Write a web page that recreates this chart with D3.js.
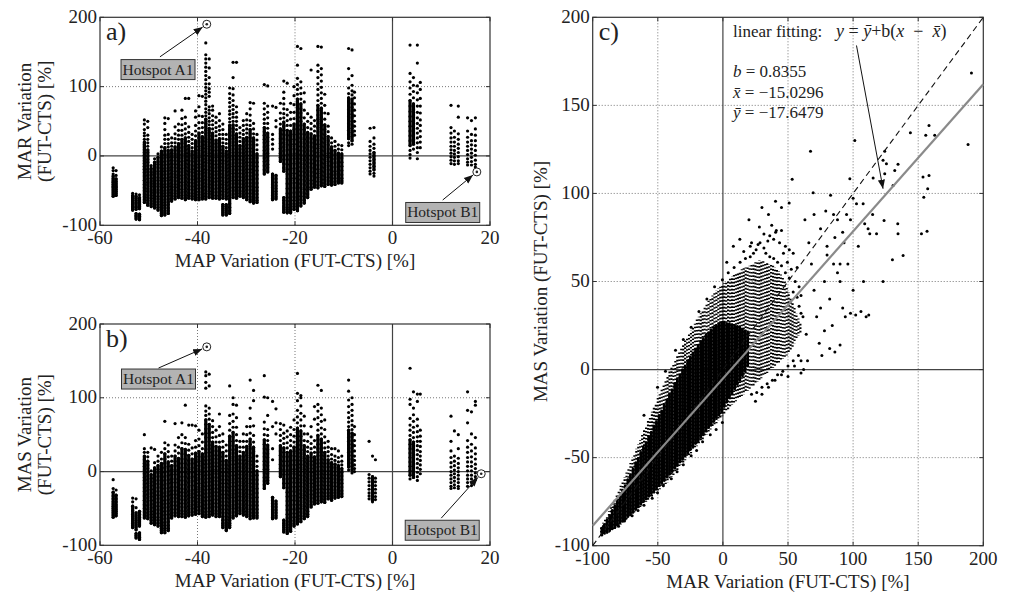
<!DOCTYPE html>
<html>
<head>
<meta charset="utf-8">
<script src="https://cdn.jsdelivr.net/npm/d3@7"></script>
<style>
  body { margin: 0; background: #fff; }
  svg text { font-family: "Liberation Serif", "Times New Roman", serif; fill: #222; }
</style>
</head>
<body>
<svg id="chart" width="1010" height="596"></svg>
<script>
// ---- data ----
// panel a: MAR variation vs MAP variation, one entry per column of points: [MAP, MAR, MAR, ...]
var marStreaks = [
  [-57.3, -17,-21,-26,-29,-33,-36,-38,-41,-44,-46,-49,-52,-55,-58],
  [-56.7, -21,-28,-33,-37,-40,-43,-45,-48,-51,-54,-57],
  [-53.3, -54,-57,-60,-62,-65,-68,-70,-73,-75,-78],
  [-52.6, -55,-58,-61,-64,-67,-69,-72,-74,-77,-83,-86,-88,-91],
  [-51.9, -56,-60,-63,-66,-70,-73,-76,-84,-87,-89,-92],
  [-50.9, 52,46,38,33,29,24,20,16,13,9,5,1,-3,-7,-11,-15,-19,-24,-29,-35,-41,-46,-50,-55,-59,-63,-67],
  [-50.2, 50,41,30,24,19,14,9,5,0,-5,-9,-14,-19,-23,-28,-33,-38,-42,-47,-51,-56,-60,-64,-68,-71],
  [-49.5, -14,-18,-23,-27,-32,-36,-40,-44,-49,-53,-57,-61,-65,-69,-73],
  [-48.8, -4,-9,-15,-20,-24,-29,-33,-37,-42,-46,-51,-55,-59,-63,-67,-71,-75],
  [-48.1, 3,-2,-8,-12,-17,-22,-26,-31,-35,-40,-44,-49,-53,-58,-62,-66,-70,-74,-78],
  [-47.4, 13,7,1,-4,-9,-14,-18,-23,-28,-32,-37,-41,-46,-50,-55,-59,-63,-68,-72,-76,-80,-83,-86],
  [-46.7, 55,47,38,30,24,18,12,7,2,-3,-8,-13,-18,-22,-27,-32,-36,-41,-45,-50,-54,-58,-63,-67,-71,-75,-79,-82,-85],
  [-46.0, 54,31,24,18,13,8,3,-2,-7,-12,-17,-21,-26,-31,-35,-40,-44,-49,-53,-57,-62,-66,-70,-75,-79,-83],
  [-45.3, 26,19,14,9,4,-1,-6,-11,-16,-20,-25,-30,-34,-39,-44,-48,-53,-57,-61,-65],
  [-44.6, 65,42,32,25,19,13,8,3,-2,-7,-12,-17,-22,-27,-31,-36,-41,-45,-50,-54,-58,-62],
  [-43.9, 46,37,30,24,18,13,7,2,-3,-8,-13,-18,-23,-28,-32,-37,-42,-46,-51,-55,-60],
  [-43.2, 66,54,45,37,30,24,18,12,7,2,-3,-8,-13,-18,-23,-28,-33,-38,-43,-48,-53,-57,-61],
  [-42.5, 83,56,47,39,32,26,20,14,9,4,-1,-6,-11,-16,-21,-26,-31,-36,-41,-46,-51,-56,-60,-63],
  [-41.8, 83,42,34,27,21,15,10,4,-1,-6,-12,-17,-22,-27,-33,-38,-43,-48,-53,-57,-61],
  [-41.1, 31,24,18,12,7,2,-3,-8,-14,-19,-24,-29,-34,-39,-44,-49,-54,-58,-62],
  [-40.4, 65,56,44,36,29,22,16,10,5,0,-5,-10,-15,-21,-26,-31,-36,-41,-46,-51,-55,-59,-63],
  [-39.7, 87,71,58,48,40,33,26,20,14,8,3,-2,-7,-12,-17,-22,-27,-32,-37,-42,-47,-52,-56,-60,-63],
  [-39.0, 86,57,48,41,34,28,22,16,11,5,0,-5,-10,-15,-20,-25,-30,-35,-40,-45,-50,-55,-59,-62],
  [-38.3, 163,146,140,134,128,122,116,110,104,99,94,89,84,79,74,68,63,58,53,47,42,37,32,26,21,16,11,6,1,-4,-9,-14,-19,-24,-29,-34,-39,-44,-49,-54,-58,-62],
  [-37.6, 140,127,113,104,97,92,86,71,66,61,55,50,45,40,34,29,24,19,14,9,4,-1,-6,-11,-16,-21,-26,-31,-36,-41,-46,-51,-55,-60],
  [-36.9, 72,66,58,51,45,39,33,28,22,17,12,7,2,-3,-8,-13,-18,-23,-28,-33,-38,-43,-48,-53,-57,-61],
  [-36.2, 56,48,41,35,29,23,18,13,8,3,-2,-7,-12,-17,-22,-27,-32,-37,-42,-47,-52,-57,-61],
  [-35.5, 61,51,43,37,31,25,20,15,10,5,0,-5,-10,-15,-20,-25,-30,-35,-40,-45,-50,-54,-58,-62],
  [-34.8, 46,38,31,25,19,14,9,4,-1,-6,-11,-16,-21,-26,-31,-36,-41,-46,-51,-56,-61,-70,-73,-76,-79,-82,-85],
  [-34.1, 31,24,18,12,7,2,-3,-8,-13,-18,-23,-28,-33,-38,-43,-48,-53,-58,-62,-70,-73,-76,-79,-82,-85],
  [-33.4, 98,90,83,77,71,65,60,54,49,44,38,33,28,23,18,13,8,3,-2,-7,-12,-17,-22,-27,-32,-37,-42,-47,-52,-57,-62,-69,-74,-79,-83],
  [-32.7, 135,113,97,88,80,73,67,61,56,50,45,40,35,30,25,20,15,10,5,0,-5,-10,-15,-20,-25,-30,-35,-40,-45,-50,-55,-60],
  [-32.0, 135,71,63,56,50,44,38,32,27,22,17,12,7,2,-3,-8,-13,-18,-23,-28,-33,-38,-43,-48,-53,-58,-61],
  [-31.3, 41,33,27,21,15,10,5,0,-5,-10,-15,-20,-25,-30,-35,-40,-45,-50,-54,-58],
  [-30.6, 51,44,37,31,25,20,14,9,4,-1,-6,-11,-16,-21,-26,-31,-36,-41,-46,-51,-56,-60],
  [-29.9, 61,52,45,39,33,27,22,16,11,6,1,-4,-9,-14,-19,-24,-29,-34,-39,-44,-49,-54,-59,-63],
  [-29.2, 77,68,59,51,44,38,32,26,21,16,11,6,1,-4,-9,-14,-19,-24,-29,-34,-39,-44,-49,-54,-59,-63,-66],
  [-28.5, 76,47,39,32,26,20,14,9,4,-1,-6,-11,-16,-21,-26,-31,-36,-41,-46,-51,-56,-61,-65,-68],
  [-27.8, 31,23,16,9,3,-3,-9,-15,-21,-27,-33,-39,-45,-50,-55,-60,-64,-67],
  [-26.3, 103,76,68,60,53,47,41,35,30,24,19,13,8,3,-3,-8,-14,-20,-26],
  [-25.6, 101,72,63,55,47,40,33,27,21,15,10,4,-1,-7,-12,-17,-23],
  [-24.6, 72,31,24,17,10,-26,-31,-36,-41,-45,-49,-53,-57,-61,-63],
  [-23.9, 70,51,42,-28,-33,-38,-43,-47,-51,-55,-59,-62],
  [-23.0, 76,62,54,46,39,32,25,18,11,4,-2,-8],
  [-22.3, 108,92,83,75,68,61,55,49,43,37,31,25,19,13,7,1,-5,-11,-17,-22,-60,-64,-68,-72,-75,-78,-81],
  [-21.6, 105,67,59,51,44,37,30,23,16,9,2,-5,-12,-19,-26,-33,-40,-47,-54,-60,-65,-70,-74,-77,-80,-82],
  [-20.9, 76,63,53,44,36,28,21,14,7,0,-7,-14,-21,-28,-35,-42,-49,-55,-60,-64,-68,-72,-76,-79,-82],
  [-20.2, 100,87,74,63,54,46,38,31,24,17,10,3,-4,-11,-18,-25,-32,-39,-46,-53,-59,-64,-69,-73,-77],
  [-19.5, 158,131,112,103,96,89,82,76,70,64,58,52,46,40,34,28,22,16,10,4,-2,-8,-14,-20,-26,-32,-38,-44,-50,-56,-61,-66,-71,-75,-79],
  [-18.8, 155,107,98,90,82,75,68,62,56,50,44,38,32,26,20,14,8,2,-4,-10,-16,-22,-28,-34,-40,-46,-52,-58,-63,-68,-72],
  [-18.1, 91,78,66,55,46,38,31,24,18,12,6,0,-6,-12,-18,-24,-30,-36,-42,-48,-54,-59,-64,-68],
  [-17.4, 61,50,41,34,27,21,15,9,3,-3,-9,-15,-21,-27,-33,-39,-45,-50,-55,-60],
  [-16.7, 124,56,47,39,32,25,19,13,7,1,-5,-11,-17,-23,-29,-35,-40,-45,-48],
  [-16.0, 51,43,36,29,23,17,11,5,-1,-7,-13,-19,-25,-31,-37,-42,-45],
  [-15.3, 158,131,122,113,104,96,88,80,73,66,59,53,47,41,35,29,23,17,11,5,-1,-7,-13,-19,-25,-31,-37,-42,-46],
  [-14.6, 157,126,117,108,99,91,83,76,69,62,56,50,44,38,32,26,20,14,8,2,-4,-10,-16,-22,-28,-34,-39,-43],
  [-13.9, 89,73,62,53,45,38,31,25,19,13,7,1,-5,-11,-17,-23,-29,-34,-39,-44],
  [-13.2, 61,43,35,28,22,16,10,4,-2,-8,-14,-20,-26,-31,-36,-41],
  [-12.5, 26,19,13,7,1,-5,-11,-17,-23,-28,-33,-38,-42],
  [-11.8, 21,14,8,2,-4,-10,-16,-22,-27,-32,-37,-41],
  [-11.1, 16,10,4,-2,-8,-14,-20,-25,-30,-35,-39],
  [-10.4, 15,9,3,-3,-9,-15,-21,-27,-32,-36,-39],
  [-9.0, 155,126,111,98,90,84,78,72,67,62,57,52,47,42,37,31,25,19,15],
  [-8.3, 153,116,102,94,88,82,76,70,65,60,55,50,45,40,34,28,22,17],
  [-7.8, 92,84,75,66,58,50,43,36,30],
  [-4.6, 40,21,14,8,3,-2,-7,-12,-17,-22,-26],
  [-3.8, 41,26,17,11,5,0,-5,-10,-15,-20,-25,-29],
  [3.6, 160,119,107,98,89,80,72,64,57,50,43,36,29,22,15,8,2,-3],
  [4.3, 113,102,93,84,75,67,59,52,45,38,31,24,17,10],
  [5.1, 160,134,101,91,81,72,63,55,47,40,33,26,19,12,5,-4],
  [5.7, 106,96,83,72,62,52,44,36,28,20,12],
  [12.0, 73,41,33,26,20,14,9,4,-1,-6,-11],
  [12.7, 36,27,20,14,8,3,-2,-7,-12],
  [13.5, 72,56,32,24,17,11,5,-1,-7,-11],
  [15.4, 55,36,27,20,14,8,2,-4,-9,-13],
  [16.2, 51,31,22,16,10,4,-2,-8,-13],
  [17.0, 55,39,30,22,15,8,1,-6,-12,-16]
];
// panel a: ranges where the points merge into a solid mass [MAP, low MAR, high MAR]
var marDense = [
  [-57.3,-58,-29],[-56.7,-57,-33],[-53.3,-78,-57],[-52.6,-77,-58],[-52.6,-91,-83],[-51.9,-76,-60],[-51.9,-92,-84],
  [-50.9,-67,20],[-50.2,-71,9],[-49.5,-73,-18],[-48.8,-75,-9],[-48.1,-78,-2],[-47.4,-86,7],[-46.7,-85,12],
  [-46.0,-83,8],[-45.3,-65,9],[-44.6,-62,13],[-43.9,-60,18],[-43.2,-61,24],[-42.5,-63,26],[-41.8,-61,15],
  [-41.1,-62,7],[-40.4,-63,22],[-39.7,-63,33],[-39.0,-62,28],[-38.3,-62,53],[-37.6,-60,40],[-36.9,-61,33],
  [-36.2,-61,23],[-35.5,-62,25],[-34.8,-61,14],[-34.8,-85,-70],[-34.1,-62,7],[-34.1,-85,-70],[-33.4,-83,44],
  [-32.7,-60,45],[-32.0,-61,32],[-31.3,-58,15],[-30.6,-60,25],[-29.9,-63,27],[-29.2,-66,38],[-28.5,-68,26],
  [-27.8,-67,3],[-26.3,-26,41],[-25.6,-23,33],[-24.6,-63,-26],[-23.9,-62,-28],[-23.0,-8,39],[-22.3,-22,49],
  [-22.3,-81,-60],[-21.6,-82,37],[-20.9,-82,36],[-20.2,-77,46],[-19.5,-79,82],[-18.8,-72,75],[-18.1,-68,46],
  [-17.4,-60,34],[-16.7,-48,32],[-16.0,-45,29],[-15.3,-46,73],[-14.6,-43,69],[-13.9,-44,45],[-13.2,-41,28],
  [-12.5,-42,13],[-11.8,-41,8],[-11.1,-39,4],[-10.4,-39,3],[-9.0,25,84],[-8.3,22,82],[-3.8,-20,5],
  [3.6,15,80],[4.3,17,75]
];

// panel b: MAS variation vs MAP variation, same layout [MAP, MAS, MAS, ...]
var masStreaks = [
  [-57.3, -11,-23,-28,-33,-37,-41,-44,-47,-50,-53,-56,-59,-62],
  [-56.7, -25,-32,-37,-41,-45,-48,-51,-54,-57,-60],
  [-53.3, -36,-41,-47,-53,-58,-61,-64,-67,-70,-73,-76],
  [-52.6, -37,-49,-56,-60,-63,-66,-69,-72,-75,-79,-84,-87,-90],
  [-51.9, -54,-58,-62,-65,-68,-71,-74,-83,-86,-89,-92],
  [-50.9, 50,31,26,21,16,11,7,2,-3,-8,-12,-17,-22,-27,-33,-39,-45,-50,-55,-59,-63],
  [-50.2, 26,20,14,9,4,-1,-6,-11,-16,-21,-26,-31,-36,-41,-46,-51,-56,-60,-64],
  [-49.5, 32,1,-4,-9,-14,-19,-24,-29,-34,-39,-44,-49,-54,-58,-62,-66,-70],
  [-48.8, 30,12,5,-1,-6,-11,-16,-21,-26,-31,-36,-41,-46,-51,-56,-61,-65,-69,-72],
  [-48.1, 21,14,8,3,-2,-7,-12,-17,-22,-27,-32,-37,-42,-47,-52,-57,-62,-66,-70,-74],
  [-47.4, 26,17,11,5,0,-5,-10,-15,-20,-25,-30,-35,-40,-45,-50,-55,-60,-65,-69,-73,-77,-80,-83],
  [-46.7, 68,39,31,24,17,11,5,-1,-7,-12,-18,-23,-29,-34,-39,-44,-49,-54,-59,-64,-69,-73,-77,-80,-83],
  [-46.0, 36,27,20,13,7,1,-5,-11,-16,-22,-27,-32,-38,-43,-48,-53,-58,-63,-68,-73,-77,-80],
  [-45.3, 21,14,8,2,-4,-10,-15,-21,-26,-31,-36,-41,-46,-51,-56,-60,-63],
  [-44.6, 65,36,28,21,14,8,2,-4,-10,-15,-21,-26,-31,-36,-41,-46,-51,-56,-60],
  [-43.9, 46,33,25,18,12,6,0,-6,-11,-17,-22,-27,-32,-37,-42,-47,-52,-57,-61],
  [-43.2, 66,50,39,31,24,17,11,5,-1,-7,-12,-18,-23,-28,-33,-38,-43,-48,-53,-57,-61],
  [-42.5, 90,46,38,30,23,17,11,5,-1,-7,-13,-18,-24,-29,-34,-39,-44,-49,-54,-58,-62],
  [-41.8, 63,37,29,22,15,9,3,-3,-9,-15,-21,-27,-32,-37,-42,-47,-52,-56,-60],
  [-41.1, 63,32,24,17,11,5,-1,-7,-13,-19,-25,-30,-35,-40,-45,-50,-55,-59],
  [-40.4, 62,42,33,25,18,12,6,0,-6,-12,-18,-24,-29,-34,-39,-44,-49,-54,-58],
  [-39.7, 56,44,35,27,20,14,8,2,-4,-10,-16,-22,-27,-32,-37,-42,-47,-52,-57],
  [-39.0, 51,40,31,24,17,11,5,-1,-7,-13,-19,-24,-29,-34,-39,-44,-49,-54,-58,-61],
  [-38.3, 135,130,121,113,89,82,76,70,64,58,52,46,40,35,30,25,20,15,10,5,0,-5,-10,-15,-20,-25,-30,-35,-40,-45,-50,-55,-59,-62],
  [-37.6, 132,116,86,78,71,64,58,52,46,41,36,31,26,21,16,11,6,1,-4,-9,-14,-19,-24,-29,-34,-39,-44,-49,-54,-58,-61],
  [-36.9, 69,61,53,46,40,34,28,23,18,13,8,3,-2,-7,-12,-17,-22,-27,-32,-37,-42,-47,-52,-56,-59],
  [-36.2, 56,47,40,34,28,22,17,12,7,2,-3,-8,-13,-18,-23,-28,-33,-38,-43,-48,-53,-57,-61],
  [-35.5, 78,61,49,40,33,27,21,16,11,6,1,-4,-9,-14,-19,-24,-29,-34,-39,-44,-49,-54,-58,-61],
  [-34.8, 51,41,33,26,20,14,9,4,-1,-6,-11,-16,-21,-26,-31,-36,-41,-46,-51,-56,-61,-66,-70,-73,-76],
  [-34.1, 36,28,21,15,9,4,-1,-6,-11,-16,-21,-26,-31,-36,-41,-46,-51,-56,-61,-65,-69,-72,-75,-78,-80],
  [-33.4, 116,76,65,56,48,41,35,29,23,18,13,8,3,-2,-7,-12,-17,-22,-27,-32,-37,-42,-47,-52,-57,-62,-66,-70,-73,-76],
  [-32.7, 100,91,78,68,60,53,47,41,35,30,25,20,15,10,5,0,-5,-10,-15,-20,-25,-30,-35,-40,-45,-50,-55,-60,-63],
  [-32.0, 90,73,60,50,42,35,29,23,18,13,8,3,-2,-7,-12,-17,-22,-27,-32,-37,-42,-47,-52,-57,-60],
  [-31.3, 41,33,27,21,16,11,6,1,-4,-9,-14,-19,-24,-29,-34,-39,-44,-49,-53,-57],
  [-30.6, 51,41,33,26,20,15,9,4,-1,-6,-11,-16,-21,-26,-31,-36,-41,-46,-51,-55,-59],
  [-29.9, 61,50,41,34,28,22,16,11,6,1,-4,-9,-14,-19,-24,-29,-34,-39,-44,-49,-54,-58,-61],
  [-29.2, 124,86,72,61,52,44,37,31,25,19,14,9,4,-1,-6,-11,-16,-21,-26,-31,-36,-41,-46,-51,-56,-60,-64],
  [-28.5, 110,96,62,49,40,33,27,21,15,10,5,0,-5,-10,-15,-20,-25,-30,-35,-40,-45,-50,-55,-59,-63],
  [-27.8, 21,14,7,1,-5,-11,-17,-23,-29,-35,-41,-46,-51,-56,-60,-63],
  [-26.3, 130,101,67,58,50,43,37,31,25,20,14,9,3,-2,-8,-13,-18,-23],
  [-25.6, 100,76,57,49,42,36,30,24,19,13,8,3,-3,-8,-12,-16],
  [-24.6, 95,61,31,16,-35,-39,-43,-47,-51,-55,-59,-62,-64],
  [-23.9, 85,66,51,-40,-44,-48,-52,-56,-60,-63],
  [-23.0, 65,57,49,42,35,28,22,16,10,4,-2,-7],
  [-22.3, 63,52,45,38,32,26,20,14,8,2,-4,-10,-16,-22,-66,-70,-73,-76,-79,-82],
  [-21.6, 55,47,39,32,26,20,14,8,2,-4,-10,-16,-22,-28,-34,-40,-46,-52,-58,-63,-68,-72,-76,-79,-82,-84],
  [-20.9, 60,50,42,35,28,22,16,10,4,-2,-8,-14,-20,-26,-32,-38,-44,-50,-56,-61,-66,-70,-74,-78,-81],
  [-20.2, 70,57,48,40,33,27,21,15,9,3,-3,-9,-15,-21,-27,-33,-39,-45,-51,-57,-62,-67,-71,-74],
  [-19.5, 133,106,96,83,74,66,59,53,47,41,35,30,25,20,15,10,5,0,-5,-10,-15,-20,-25,-30,-35,-40,-45,-50,-55,-60,-64,-68,-71],
  [-18.8, 103,100,89,79,70,62,55,48,42,36,30,25,20,15,10,5,0,-5,-10,-15,-20,-25,-30,-35,-40,-45,-50,-55,-60,-64,-68],
  [-18.1, 75,62,51,42,35,29,23,18,13,8,3,-2,-7,-12,-17,-22,-27,-32,-37,-42,-47,-52,-57,-61,-64],
  [-17.4, 51,41,33,27,21,16,11,6,1,-4,-9,-14,-19,-24,-29,-34,-39,-44,-49,-54,-58,-61],
  [-16.7, 61,47,38,31,25,19,14,9,4,-1,-6,-11,-16,-21,-26,-31,-36,-41,-45,-48],
  [-16.0, 88,71,42,33,26,20,14,9,4,-1,-6,-11,-16,-21,-26,-31,-36,-40,-44],
  [-15.3, 117,91,82,73,64,56,49,43,37,31,26,21,16,11,6,1,-4,-9,-14,-19,-24,-29,-34,-39,-43],
  [-14.6, 110,86,77,68,59,51,44,38,32,27,22,17,12,7,2,-3,-8,-13,-18,-23,-28,-33,-37,-41],
  [-13.9, 70,57,47,39,32,26,21,16,11,6,1,-4,-9,-14,-19,-24,-29,-34,-38,-42],
  [-13.2, 41,33,27,21,16,11,6,1,-4,-9,-14,-19,-24,-29,-33,-37],
  [-12.5, 31,23,17,12,7,2,-3,-8,-13,-18,-23,-28,-32,-36,-39],
  [-11.8, 31,21,15,10,5,0,-5,-10,-15,-20,-25,-29,-33,-36],
  [-11.1, 28,19,13,8,3,-2,-7,-12,-17,-22,-27,-31,-35],
  [-10.4, 21,14,9,4,-1,-6,-11,-16,-21,-26,-30,-34],
  [-9.0, 124,109,97,88,80,73,67,61,56,51,46,41,36,31,26,21,16,11,6,2],
  [-8.3, 100,91,83,76,69,63,57,52,47,42,37,32,27,22,17,12,7,2,-2],
  [-7.8, 61,50,42,35,28,21,15,9,4,0],
  [-4.8, 41,-4,-9,-14,-19,-24,-29,-33,-37],
  [-4.1, 21,-7,-12,-17,-22,-27,-31,-35,-39,-41],
  [-3.5, 16,-9,-14,-19,-24,-29,-34,-38],
  [3.6, 140,98,91,72,63,56,49,43,37,31,25,19,13,7,1,-5,-10],
  [4.3, 108,86,77,68,60,53,46,40,34,28,22,16,10,4,-2,-8],
  [5.1, 105,95,71,62,54,47,41,35,29,23,17,11,5,-1,-7,-12],
  [5.7, 105,56,48,41,34,27,21,15,9,3,-3],
  [12.0, 75,41,28,19,12,6,0,-5,-10,-15,-20,-23],
  [12.7, 55,21,14,8,2,-3,-8,-13,-18,-22],
  [13.5, 50,31,18,11,5,0,-5,-10,-15,-20,-23],
  [15.4, 108,83,66,42,33,26,19,13,7,1,-5,-10,-15,-20],
  [16.2, 81,51,37,28,20,13,7,1,-5,-10,-15,-19],
  [17.0, 95,90,46,32,24,17,10,4,-2,-7,-11]
];
// panel b: solid-mass ranges [MAP, low MAS, high MAS]
var masDense = [
  [-57.3,-62,-28],[-56.7,-60,-32],[-53.3,-76,-47],[-52.6,-79,-56],[-52.6,-90,-84],[-51.9,-74,-54],[-51.9,-92,-83],
  [-50.9,-63,21],[-50.2,-64,14],[-49.5,-70,-4],[-48.8,-72,5],[-48.1,-74,8],[-47.4,-83,11],[-46.7,-83,24],
  [-46.0,-80,13],[-45.3,-63,8],[-44.6,-60,21],[-43.9,-61,18],[-43.2,-61,31],[-42.5,-62,30],[-41.8,-60,22],
  [-41.1,-59,17],[-40.4,-58,25],[-39.7,-57,27],[-39.0,-61,24],[-38.3,-62,70],[-37.6,-61,64],[-36.9,-59,40],
  [-36.2,-61,34],[-35.5,-61,33],[-34.8,-76,26],[-34.1,-80,15],[-33.4,-76,48],[-32.7,-63,53],[-32.0,-60,35],
  [-31.3,-57,21],[-30.6,-59,26],[-29.9,-61,34],[-29.2,-64,44],[-28.5,-63,33],[-27.8,-63,1],[-26.3,-23,43],
  [-25.6,-16,36],[-24.6,-64,-35],[-23.9,-63,-40],[-23.0,-7,35],[-22.3,-22,32],[-22.3,-82,-66],[-21.6,-84,26],
  [-20.9,-81,28],[-20.2,-74,33],[-19.5,-71,59],[-18.8,-68,55],[-18.1,-64,35],[-17.4,-61,21],[-16.7,-48,25],
  [-16.0,-44,20],[-15.3,-43,49],[-14.6,-41,44],[-13.9,-42,26],[-13.2,-37,16],[-12.5,-39,12],[-11.8,-36,10],
  [-11.1,-35,8],[-10.4,-34,4],[-9.0,6,56],[-8.3,2,52],[-4.1,-39,-7],[3.6,-5,43],[4.3,-8,40]
];

// panel c: MAS vs MAR. Outer extent of the speckled cloud [MAR, low MAS, high MAS]
var cloudExtent = [
  [-93.5,-94.5,-89],[-92,-94,-87],[-90.5,-93.5,-85],[-89,-93,-83],[-87.5,-92.5,-80.5],[-86,-92,-78],
  [-84.5,-91,-76],[-83,-90.5,-73.5],[-81.5,-89.5,-71],[-80,-89,-68.5],[-78.5,-88,-66],[-77,-87,-64],
  [-75.5,-86,-61],[-74,-85,-58.5],[-72.5,-84,-56],[-71,-83,-53],[-69.5,-82,-50.5],[-68,-81,-48],
  [-66.5,-80,-45],[-65,-79,-42.5],[-63.5,-78,-40],[-62,-77,-37],[-60.5,-76,-34.5],[-59,-75,-32],
  [-57.5,-74,-29],[-56,-73,-27],[-54.5,-72,-24],[-53,-71,-21.5],[-51.5,-70,-19],[-50,-69,-16],
  [-48.5,-68,-14],[-47,-67,-11],[-45.5,-66,-9],[-44,-65,-6],[-42.5,-64,-4],[-41,-62.5,-1],
  [-39.5,-61,1.5],[-38,-60,3.5],[-36.5,-58.5,6],[-35,-57,8],[-33.5,-55.5,10],[-32,-54,12.5],
  [-30.5,-53,14],[-29,-51.5,16.5],[-27.5,-50,18],[-26,-49,20.5],[-24.5,-47.5,22],[-23,-46,24.5],
  [-21.5,-45,26],[-20,-43.5,28.5],[-18.5,-42,30],[-17,-41,32],[-15.5,-39.5,34],[-14,-38,35.5],
  [-12.5,-37,37.5],[-11,-35.5,39],[-9.5,-34,41],[-8,-33,42],[-6.5,-31.5,43.5],[-5,-30.5,45],
  [-3.5,-29,46],[-2,-28,47],[-0.5,-26.5,48],[1,-25,49],[2.5,-24,50],[4,-22.5,51],[5.5,-21.5,52],
  [7,-20,53],[8.5,-19,54],[10,-18,55],[11.5,-17,55.5],[13,-16,56],[14.5,-15,57],[16,-14,57.5],
  [17.5,-13,58],[19,-12,58.5],[20.5,-11,59],[22,-10,59.5],[23.5,-9,60],[25,-8,61],[26.5,-7,61.5],
  [28,-6,62],[29.5,-5,62],[31,-4,61.5],[32.5,-3,61],[34,-2,60.5],[35.5,-1,60],[37,0,59.5],[38.5,1,59],
  [40,2,58],[41.5,3,57],[43,4,56],[44.5,5,54],[46,6,52],[47.5,7,50],[49,8,47],[50.5,9,44],
  [52,11,41],[53.5,13,38],[55,15,35],[56.5,17,32],[58,19,29],[59.5,21,26]
];

// panel c: solid core of the cloud [MAR, low MAS, high MAS]
var cloudDense = [
  [-93,-94,-90],[-91,-93,-88],[-89,-92.5,-85.5],[-87,-91.5,-83],[-85,-90.5,-80],[-83,-89.5,-77.5],
  [-81,-88.5,-74.5],[-79,-87,-72],[-77,-86,-68.5],[-75,-85,-66],[-73,-83.5,-62.5],[-71,-82.5,-60],
  [-69,-81,-56.5],[-67,-79.5,-53],[-65,-78,-50.5],[-63,-76.5,-47],[-61,-75,-44],[-59,-73.5,-41.5],
  [-57,-72,-38],[-55,-70.5,-35.5],[-53,-69,-32],[-51,-67.5,-29.5],[-49,-66,-26],[-47,-64.5,-23.5],
  [-45,-63,-20],[-43,-61,-17.5],[-41,-59.5,-14],[-39,-58,-11.5],[-37,-56,-8],[-35,-54.5,-5.5],
  [-33,-52.5,-3],[-31,-51,0],[-29,-49,2],[-27,-47.5,5],[-25,-45.5,7],[-23,-44,9.5],[-21,-42,11.5],
  [-19,-40.5,13.5],[-17,-38.5,16],[-15,-37,17.5],[-13,-35,19.5],[-11,-33,21],[-9,-31.5,22.5],
  [-7,-29.5,24],[-5,-27.5,25],[-3,-26,26],[-1,-24,26.5],[1,-21,26.5],[3,-18.5,26],[5,-16,26],
  [7,-13.5,25.5],[9,-11,25],[11,-8.5,24.5],[13,-6,24],[15,-3.5,23],[17,-1,22],[19,2,21]
];

// panel c: individual points along the fringe of the cloud [MAR, MAS, MAS, ...]
var cloudFringe = [
  [-80.1,-89],[-75.6,-86],[-69.7,-83],[-65.2,-80],[-60.6,-77,-26],[-54.3,-73],[-50.2,-70,-10],
  [-45.7,-66],[-44.1,-1],[-39.6,-62],[-36.4,11],[-35.2,-58],[-30.4,-54,17],[-24.4,-49,24],
  [-20.2,-46],[-18.4,33],[-15.6,-41],[-12.3,40],[-9.7,-37],[-6.4,47],[-5.2,-34],[-0.4,-30,51],
  [4.1,55],[8.6,58],[13.2,61],[17.3,63],
  [21,64,70],[22,-14],[23.5,66],[25.5,68],[26,-13],[27,71],[28.5,72],[30,-10],[31.5,69,77],
  [33,66],[34,-8],[34.5,73],[36,64,76],[37.5,82],[38,-6],[39,63,74],[40.5,78],[42,61,-3],
  [43.5,72],[45,59,79],[46,-1],[46.5,66],[48,55,70],[49.5,61],[50,2],[51,52,68],[52.5,57],
  [54,44,66,5],[55.5,50],[57,41,58],[58,8],[58.5,36,47],[60,32,42],[61.5,30]
];

// panel c: scattered points away from the cloud [MAR, MAS]
var cloudOutliers = [
  [67.3,124],[101.3,130.1],[190.9,168.4],[188.3,127.8],[158.3,138.6],[144,134.5],[155.8,133],[162.7,133],
  [124.3,123.9],[123,118.8],[125.6,116.9],[134.5,116.5],[132,113],[115.4,108.7],[97.5,108.4],[153.7,109.3],
  [158.3,110.2],[157.3,102.7],[154.3,97.9],[156.8,78.6],[152.5,77.1],[130.7,104.5],[124.3,111.2],[53.2,108],
  [40.4,95.5],[50.9,94.5],[69.3,100.4],[82.7,98.9],[100,97.3],[102.6,94.1],[107.7,94.1],[138.4,64.8],
  [130.2,62.3],[123,50],[134.3,82.8],[134.5,77.1],[123.8,84.7],[118,77.1],[108.9,82.8],[111.5,79.9],[112.8,77.1],
  [63,85],[66,72],[68,60],[70,45],[72,30],[74,15],[76,8],[78,50],[80,65],[82,40],[84,25],[86,75],[88,55],
  [90,14],[92,35],[94,30],[96,60],[98,32],[100,45],[102,31],[104,70],[106,33],[108,50],[110,30],[112,31],
  [115,88],[65,5],[62,0],[60,-2],[64,20],[70,88],[75,80],[79,90],[85,88],[88,85],[92,78],[95,88],[98,85],
  [75,35],[78,22],[82,12],[86,10],[80,70],[85,60],[90,60],[93,72],[90,50],
  [13,74],[28,81],[41,79],[3,61],[16,67],[8,70],[22,72],[35,88],[45,92],[20,85],[30,92],
  [40,-6],[45,-3],[50,-4],[55,2],[60,5],[35,-10],[30,-14],[25,-18]
];

// hotspots marked in panels a and b [label, MAP, value]
var hotspotsA = [["Hotspot A1", -38.1, 190], ["Hotspot B1", 17.3, -23]];
var hotspotsB = [["Hotspot A1", -38.1, 169], ["Hotspot B1", 18.2, -3]];

// linear fit shown in panel c
var fitB = 0.8355, fitXbar = -15.0296, fitYbar = -17.6479;

// ---- drawing ----
var svg = d3.select("#chart");

// grain offsets for the speckled part of the cloud (style only)
var grain = [0, 2.3, 1.1, 3.0, 0.6, 1.7, 2.7, 0.3, 1.4, 2.0, 0.9, 3.3, 1.9];

var defs = svg.append("defs");
defs.append("marker")
    .attr("id", "arrow")
    .attr("viewBox", "0 0 10 10")
    .attr("refX", 10).attr("refY", 5)
    .attr("markerWidth", 9).attr("markerHeight", 9)
    .attr("markerUnits", "userSpaceOnUse")
    .attr("orient", "auto")
    .append("path")
    .attr("d", "M0,1 L10,5 L0,9 Z")
    .attr("fill", "#111");

function columnsToPoints(cols) {
    var pts = [];
    cols.forEach(function (c) {
        c.slice(1).forEach(function (v) { pts.push([c[0], v]); });
    });
    return pts;
}

// vertical runs of merged points; a dash pattern gives the speckled parts their grain
function drawRanges(parent, x, y, data, width, dash) {
    var sel = parent.append("g")
        .selectAll("line")
        .data(data)
        .enter().append("line")
        .attr("x1", function (d) { return x(d[0]); })
        .attr("x2", function (d) { return x(d[0]); })
        .attr("y1", function (d) { return y(d[1]); })
        .attr("y2", function (d) { return y(d[2]); })
        .attr("stroke", "#000")
        .attr("stroke-width", width);
    if (dash) {
        sel.attr("stroke-dasharray", dash)
           .attr("stroke-dashoffset", function (d, i) { return grain[i % grain.length]; });
    } else {
        sel.attr("stroke-linecap", "round");
    }
}

function drawPanel(p) {
    var x = d3.scaleLinear().domain(p.xDomain).range([p.left, p.right]);
    var y = d3.scaleLinear().domain(p.yDomain).range([p.bottom, p.top]);
    var g = svg.append("g");

    defs.append("clipPath").attr("id", "clip-" + p.id)
        .append("rect")
        .attr("x", p.left).attr("y", p.top)
        .attr("width", p.right - p.left).attr("height", p.bottom - p.top);

    // dotted grid
    g.selectAll(".gx").data(p.xGrid).enter().append("line")
        .attr("x1", function (d) { return x(d); }).attr("x2", function (d) { return x(d); })
        .attr("y1", p.top).attr("y2", p.bottom)
        .attr("stroke", "#777").attr("stroke-width", 1).attr("stroke-dasharray", "1,2");
    g.selectAll(".gy").data(p.yGrid).enter().append("line")
        .attr("y1", function (d) { return y(d); }).attr("y2", function (d) { return y(d); })
        .attr("x1", p.left).attr("x2", p.right)
        .attr("stroke", "#777").attr("stroke-width", 1).attr("stroke-dasharray", "1,2");

    // solid zero lines
    g.append("line").attr("x1", x(0)).attr("x2", x(0)).attr("y1", p.top).attr("y2", p.bottom)
        .attr("stroke", "#444").attr("stroke-width", 1.2);
    g.append("line").attr("y1", y(0)).attr("y2", y(0)).attr("x1", p.left).attr("x2", p.right)
        .attr("stroke", "#444").attr("stroke-width", 1.2);

    var inner = g.append("g").attr("clip-path", "url(#clip-" + p.id + ")");

    if (p.extent) drawRanges(inner, x, y, p.extent, 2.2, "1.6,1.9");
    drawRanges(inner, x, y, p.dense, p.denseWidth, null);

    inner.append("g").selectAll("circle")
        .data(p.points)
        .enter().append("circle")
        .attr("cx", function (d) { return x(d[0]); })
        .attr("cy", function (d) { return y(d[1]); })
        .attr("r", p.r)
        .attr("fill", "#000");

    // box
    g.append("rect")
        .attr("x", p.left).attr("y", p.top)
        .attr("width", p.right - p.left).attr("height", p.bottom - p.top)
        .attr("fill", "none").attr("stroke", "#333").attr("stroke-width", 1.2);

    // inward ticks on all four sides
    var tl = 4;
    p.xTicks.forEach(function (t) {
        g.append("line").attr("x1", x(t)).attr("x2", x(t)).attr("y1", p.bottom).attr("y2", p.bottom - tl).attr("stroke", "#333");
        g.append("line").attr("x1", x(t)).attr("x2", x(t)).attr("y1", p.top).attr("y2", p.top + tl).attr("stroke", "#333");
    });
    p.yTicks.forEach(function (t) {
        g.append("line").attr("y1", y(t)).attr("y2", y(t)).attr("x1", p.left).attr("x2", p.left + tl).attr("stroke", "#333");
        g.append("line").attr("y1", y(t)).attr("y2", y(t)).attr("x1", p.right).attr("x2", p.right - tl).attr("stroke", "#333");
    });

    g.selectAll(".xt").data(p.xTicks).enter().append("text")
        .attr("x", function (d) { return x(d); })
        .attr("y", p.bottom + 19)
        .attr("text-anchor", "middle")
        .style("font-size", "19px")
        .text(function (d) { return d; });
    g.selectAll(".yt").data(p.yTicks).enter().append("text")
        .attr("x", p.left - 3)
        .attr("y", function (d) { return y(d) + 5.5; })
        .attr("text-anchor", "end")
        .style("font-size", "19px")
        .text(function (d) { return d; });

    // axis titles
    g.append("text")
        .attr("x", (p.left + p.right) / 2).attr("y", p.bottom + 42)
        .attr("text-anchor", "middle").style("font-size", "19px")
        .text(p.xLabel);
    p.yLabel.forEach(function (line, i) {
        g.append("text")
            .attr("transform", "translate(" + p.yLabelX[i] + "," + ((p.top + p.bottom) / 2) + ") rotate(-90)")
            .attr("text-anchor", "middle").style("font-size", "19px")
            .text(line);
    });

    // panel tag
    g.append("text")
        .attr("x", p.left + 6).attr("y", p.top + 23)
        .style("font-size", "26px")
        .text(p.tag);

    return { x: x, y: y, g: g };
}

function drawHotspots(ax, spots, notes) {
    spots.forEach(function (s, i) {
        var n = notes[i];
        var cx = ax.x(s[1]), cy = ax.y(s[2]);
        ax.g.append("circle").attr("cx", cx).attr("cy", cy).attr("r", 4)
            .attr("fill", "#fff").attr("stroke", "#222").attr("stroke-width", 1);
        ax.g.append("circle").attr("cx", cx).attr("cy", cy).attr("r", 1.3).attr("fill", "#222");

        var bx = ax.x(n.boxX), by = ax.y(n.boxY);
        var sx = ax.x(n.fromX), sy = ax.y(n.fromY);
        var dx = cx - sx, dy = cy - sy, len = Math.sqrt(dx * dx + dy * dy);
        ax.g.append("line")
            .attr("x1", sx).attr("y1", sy)
            .attr("x2", cx - dx / len * 5).attr("y2", cy - dy / len * 5)
            .attr("stroke", "#111").attr("stroke-width", 1)
            .attr("marker-end", "url(#arrow)");

        ax.g.append("rect")
            .attr("x", bx - 37).attr("y", by - 10)
            .attr("width", 74).attr("height", 20)
            .attr("fill", "#b3b3b3").attr("stroke", "#333").attr("stroke-width", 1);
        ax.g.append("text")
            .attr("x", bx).attr("y", by + 5)
            .attr("text-anchor", "middle").style("font-size", "15.5px")
            .text(s[0]);
    });
}

// ---- panel a ----
var axA = drawPanel({
    id: "a", tag: "a)", r: 1.6, denseWidth: 3.2,
    left: 100, right: 490, top: 17.3, bottom: 225.3,
    xDomain: [-60, 20], yDomain: [-100, 200],
    xTicks: [-60, -40, -20, 0, 20], yTicks: [-100, 0, 100, 200],
    xGrid: [-40, -20], yGrid: [100],
    xLabel: "MAP Variation (FUT-CTS) [%]",
    yLabel: ["MAR Variation", "(FUT-CTS) [%]"], yLabelX: [31, 51],
    dense: marDense,
    points: columnsToPoints(marStreaks)
});
drawHotspots(axA, hotspotsA, [
    { boxX: -48.1, boxY: 124.6, fromX: -47.7, fromY: 143 },
    { boxX: 10.3, boxY: -81.5, fromX: 10.3, fromY: -63.5 }
]);

// ---- panel b ----
var axB = drawPanel({
    id: "b", tag: "b)", r: 1.6, denseWidth: 3.2,
    left: 100, right: 490, top: 324, bottom: 545.3,
    xDomain: [-60, 20], yDomain: [-100, 200],
    xTicks: [-60, -40, -20, 0, 20], yTicks: [-100, 0, 100, 200],
    xGrid: [-40, -20], yGrid: [100],
    xLabel: "MAP Variation (FUT-CTS) [%]",
    yLabel: ["MAS Variation", "(FUT-CTS) [%]"], yLabelX: [31, 51],
    dense: masDense,
    points: columnsToPoints(masStreaks)
});
drawHotspots(axB, hotspotsB, [
    { boxX: -48, boxY: 125.4, fromX: -48, fromY: 140.3 },
    { boxX: 10.2, boxY: -79.6, fromX: 10, fromY: -63.2 }
]);

// ---- panel c ----
var axC = drawPanel({
    id: "c", tag: "c)", r: 1.5, denseWidth: 2.8,
    left: 592.7, right: 983.3, top: 17.3, bottom: 545.7,
    xDomain: [-100, 200], yDomain: [-100, 200],
    xTicks: [-100, -50, 0, 50, 100, 150, 200], yTicks: [-100, -50, 0, 50, 100, 150, 200],
    xGrid: [-50, 50, 100, 150], yGrid: [-50, 50, 100, 150],
    xLabel: "MAR Variation (FUT-CTS) [%]",
    yLabel: ["MAS Variation (FUT-CTS) [%]"], yLabelX: [547],
    extent: cloudExtent,
    dense: cloudDense,
    points: columnsToPoints(cloudFringe).concat(cloudOutliers)
});

// 1:1 dashed line and fitted line
var cd = axC.x.domain();
axC.g.append("line")
    .attr("x1", axC.x(cd[0])).attr("y1", axC.y(cd[0]))
    .attr("x2", axC.x(cd[1])).attr("y2", axC.y(cd[1]))
    .attr("stroke", "#111").attr("stroke-width", 1.1).attr("stroke-dasharray", "6,4");
axC.g.append("line")
    .attr("x1", axC.x(cd[0])).attr("y1", axC.y(fitYbar + fitB * (cd[0] - fitXbar)))
    .attr("x2", axC.x(cd[1])).attr("y2", axC.y(fitYbar + fitB * (cd[1] - fitXbar)))
    .attr("stroke", "#8a8a8a").attr("stroke-width", 2.2);

// fit annotation
var ann = axC.g.append("g");
function mathLine(xPos, yPos, size, parts) {
    var t = ann.append("text").attr("x", xPos).attr("y", yPos).style("font-size", size);
    parts.forEach(function (p) {
        t.append("tspan").style("font-style", p[1] ? "italic" : "normal").text(p[0]);
    });
}
mathLine(733, 37, "17px", [["linear fitting:", 0]]);
mathLine(836, 37, "18px", [["y", 1], [" = ", 0], ["y\u0304", 1], ["+b(", 0], ["x", 1], ["\u2002\u2212\u2002", 0], ["x\u0304", 1], [")", 0]]);
mathLine(733, 77, "17px", [["b", 1], [" = " + fitB.toFixed(4), 0]]);
mathLine(733, 97.5, "17px", [["x\u0304", 1], [" = \u2212" + Math.abs(fitXbar).toFixed(4), 0]]);
mathLine(733, 118, "17px", [["y\u0304", 1], [" = \u2212" + Math.abs(fitYbar).toFixed(4), 0]]);

axC.g.append("line")
    .attr("x1", axC.x(102.6)).attr("y1", axC.y(184))
    .attr("x2", axC.x(123)).attr("y2", axC.y(102.7))
    .attr("stroke", "#111").attr("stroke-width", 1)
    .attr("marker-end", "url(#arrow)");
</script>
</body>
</html>
